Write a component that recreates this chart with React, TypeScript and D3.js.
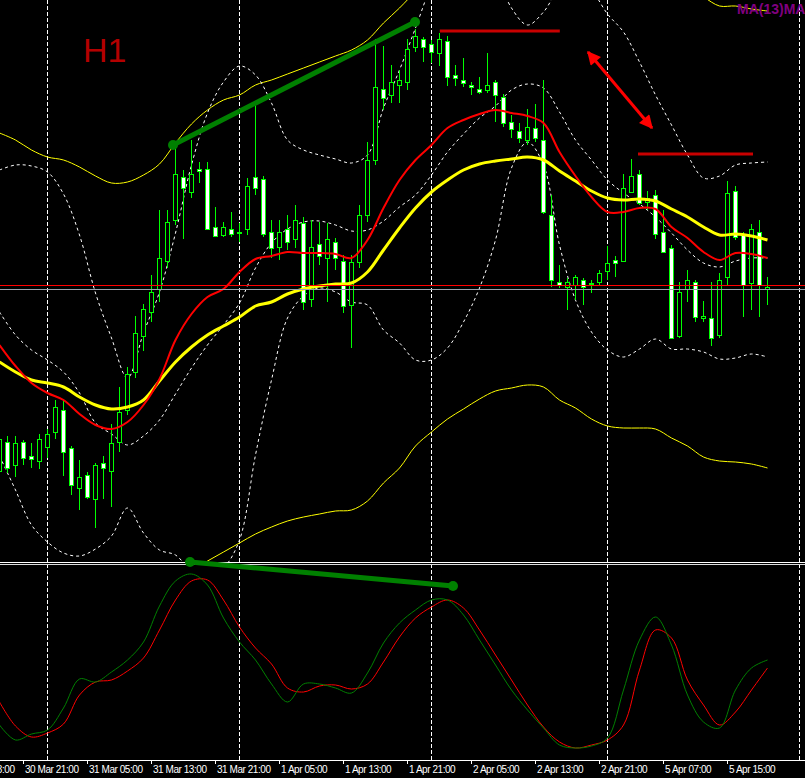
import React from "react";
import * as d3 from "d3";

const WIDTH = 805;
const HEIGHT = 778;
const MAIN_BOTTOM = 562;
const OSC_TOP = 565;
const AXIS_Y = 760;
const CANDLE = "#00ff00";
const FONT = "'Liberation Sans', Arial, sans-serif";

// H1 bars, 30 Mar 18:00 .. 5 Apr 20:00 (price in points)
const opens = [129, 158, 135, 158, 144, 139, 153, 168, 190, 152, 112, 125, 101, 137, 129, 158, 190, 228, 264, 288,
  311, 339, 380, 423, 408, 431, 431, 373, 365, 371, 368, 371, 423, 421, 368, 353, 371, 361, 377, 301,
  356, 342, 358, 339, 295, 338, 385, 440, 511, 505, 515, 518, 553, 561, 556, 547, 559, 525, 520, 515,
  511, 510, 518, 503, 478, 469, 460, 472, 460, 385, 318, 313, 315, 320, 317, 318, 329, 340, 339, 408,
  426, 398, 405, 368, 352, 264, 311, 318, 282, 282, 265, 323, 409, 365, 317, 368, 311];
const highs = [167, 164, 164, 160, 157, 166, 171, 200, 200, 154, 140, 128, 137, 144, 176, 213, 233, 284, 296, 325,
  390, 390, 453, 430, 460, 438, 438, 393, 378, 388, 377, 422, 495, 424, 380, 380, 385, 395, 383, 380,
  378, 377, 362, 345, 345, 395, 458, 561, 554, 535, 530, 561, 571, 563, 560, 567, 564, 535, 542, 518,
  523, 547, 520, 506, 485, 477, 491, 496, 520, 405, 335, 322, 325, 322, 320, 330, 354, 344, 426, 441,
  430, 409, 410, 390, 355, 318, 330, 320, 299, 318, 327, 419, 414, 368, 376, 380, 323];
const lows = [125, 127, 123, 135, 132, 131, 142, 161, 124, 105, 90, 101, 72, 101, 93, 148, 185, 222, 249, 278,
  298, 332, 375, 361, 402, 417, 370, 363, 363, 363, 358, 365, 405, 363, 342, 340, 350, 352, 290, 293,
  335, 298, 330, 287, 252, 332, 378, 435, 490, 497, 497, 510, 548, 538, 537, 534, 514, 514, 513, 505,
  506, 507, 478, 473, 462, 457, 455, 458, 386, 313, 312, 290, 300, 295, 307, 315, 320, 323, 338, 407,
  395, 390, 361, 347, 261, 262, 298, 278, 278, 254, 262, 314, 360, 283, 290, 283, 295];
const closes = [161, 132, 157, 142, 141, 161, 166, 193, 148, 115, 123, 103, 135, 132, 157, 188, 226, 267, 291, 308,
  342, 378, 426, 412, 426, 429, 371, 364, 373, 366, 367, 414, 412, 366, 352, 368, 358, 380, 298, 353,
  344, 361, 342, 294, 338, 385, 440, 513, 502, 518, 520, 551, 564, 553, 548, 561, 523, 522, 517, 513,
  508, 515, 505, 477, 471, 462, 473, 462, 388, 320, 315, 318, 323, 313, 317, 327, 337, 337, 412, 424,
  397, 402, 366, 348, 262, 308, 320, 283, 284, 262, 320, 407, 363, 315, 371, 315, 313];

// indicator values, one every second bar
const SAMPLE_STEP = 2;
const maRed = [255, 234, 217, 207, 200, 186, 175, 171, 178, 195, 221, 260, 286, 303, 311, 328, 341, 344, 348, 347,
  347, 346, 342, 360, 392, 420, 440, 455, 472, 480, 486, 490, 487, 484, 477, 448, 424, 403, 388, 388,
  392, 391, 373, 362, 348, 340, 347, 346, 342];
const maYellow = [238, 228, 220, 217, 213, 203, 195, 191, 193, 200, 219, 238, 253, 265, 274, 283, 294, 298, 306, 311,
  314, 316, 317, 328, 350, 372, 392, 408, 420, 430, 436, 439, 441, 443, 440, 429, 419, 409, 402, 400,
  401, 399, 391, 383, 373, 365, 366, 364, 360];
const bbUpper = [430, 435, 434, 428, 406, 365, 307, 262, 222, 267, 308, 367, 435, 487, 518, 534, 525, 497, 460, 450,
  445, 441, 437, 445, 492, 530, 572, 615, 645, 658, 652, 628, 592, 575, 588, 612, 622, 610, 586, 568,
  538, 505, 475, 445, 422, 424, 435, 437, 438];
const bbMiddle = [288, 265, 250, 240, 228, 207, 177, 166, 155, 164, 180, 206, 232, 255, 275, 297, 332, 357, 371, 378,
  379, 375, 369, 370, 379, 393, 405, 425, 448, 466, 482, 494, 510, 516, 512, 488, 460, 440, 420, 407,
  396, 383, 367, 350, 337, 333, 339, 342, 342];
const bbLower = [144, 110, 75, 58, 47, 44, 51, 64, 92, 67, 50, 45, 29, 23, 32, 60, 145, 220, 282, 304,
  312, 308, 298, 295, 270, 257, 240, 240, 252, 278, 312, 360, 432, 458, 435, 355, 300, 268, 250, 243,
  251, 261, 251, 251, 248, 241, 242, 246, 243];
const envUpper = [467, 460, 450, 443, 440, 433, 424, 417, 418, 425, 436, 457, 476, 490, 500, 505, 515, 520, 526, 532,
  538, 544, 550, 560, 577, 592, 610, 640, 659, 669, 671, 669, 670, 671, 667, 658, 646, 637, 630, 628,
  630, 627, 620, 612, 603, 594, 594, 591, 589];
const envLower = [9, -4, -10, -9, -14, -27, -34, -35, -32, -25, 2, 19, 30, 39, 48, 57, 66, 73, 79, 83,
  86, 89, 90, 99, 117, 132, 154, 168, 181, 191, 201, 209, 212, 215, 213, 200, 192, 181, 174, 172,
  172, 171, 162, 154, 143, 139, 138, 136, 132];
const oscMain = [17.5, 10, 13, 15, 26, 40.5, 39, 44, 50, 59, 77, 89.5, 93, 87.5, 71, 59, 50, 38, 29, 38,
  38, 36, 33.5, 43.5, 58.5, 68.5, 75, 80, 80, 72.5, 60, 47.5, 35, 25, 16, 7.5, 6, 7, 11, 35,
  60, 71.5, 57.5, 32.5, 19, 16, 35, 46, 50];
const oscSignal = [29, 17, 11.5, 13.5, 18, 32.5, 39, 40, 44.5, 51, 65, 80, 89.5, 90, 80, 66.5, 56, 48, 36, 34,
  37, 37.5, 35.5, 38, 49, 61.5, 71, 76.5, 80, 76, 65, 52.5, 40, 27.5, 16.5, 9, 6, 7.5, 10, 17.5,
  45, 65, 61, 40, 27.5, 17.5, 24, 35, 46];

const dayStartBars = [6, 30, 54, 76, 100];
const tickBars = [-5, 3, 11, 19, 27, 35, 43, 51, 59, 67, 75, 83, 91];
const tickLabels = ["30 Mar 13:00", "30 Mar 21:00", "31 Mar 05:00", "31 Mar 13:00", "31 Mar 21:00",
  "1 Apr 05:00", "1 Apr 13:00", "1 Apr 21:00", "2 Apr 05:00", "2 Apr 13:00", "2 Apr 21:00",
  "5 Apr 07:00", "5 Apr 15:00"];

const bidPrice = 315;
const askPrice = 311;

// drawn objects, [bar, value]
const priceTrend = [[21.75, 455], [52, 578]];
const oscTrend = [[23.875, 99], [56.75, 87]];
const resistanceLines = [[[55.1, 569], [70.1, 569]], [[79.875, 446], [94.25, 446]]];
const moveArrow = [[73.625, 548], [81.625, 472]];

export default function App() {
  const x = d3.scaleLinear().domain([0, 1]).range([-1, 7]);
  const y = d3.scaleLinear().domain([38, 600]).range([MAIN_BOTTOM, 0]);
  const yOsc = d3.scaleLinear().domain([0, 100]).range([760, 560]);

  const pathFor = (scale: d3.ScaleLinear<number, number>) =>
    d3.line<number>()
      .x((_, k) => x(k * SAMPLE_STEP) + 0.5)
      .y((v) => scale(v))
      .curve(d3.curveCatmullRom.alpha(0.5));
  const priceLine = pathFor(y);
  const oscLine = pathFor(yOsc);

  return (
    <div style={{ position: "absolute", left: 0, top: 0 }}>
      <svg width={WIDTH} height={HEIGHT} style={{ display: "block", background: "#000" }}>
        <defs>
          <clipPath id="mainClip"><rect x={0} y={0} width={WIDTH} height={MAIN_BOTTOM} /></clipPath>
          <clipPath id="oscClip"><rect x={0} y={OSC_TOP + 1} width={WIDTH} height={AXIS_Y - OSC_TOP - 1} /></clipPath>
          <marker id="arrowHead" viewBox="0 0 10 10" refX={9} refY={5} markerWidth={5} markerHeight={4.5}
            orient="auto-start-reverse" markerUnits="strokeWidth">
            <path d="M0,0 L10,5 L0,10 z" fill="#ff0000" />
          </marker>
        </defs>
        <rect width={WIDTH} height={HEIGHT} fill="#000" />

        {dayStartBars.map((b) => (
          <line key={b} x1={Math.round(x(b)) + 0.5} x2={Math.round(x(b)) + 0.5} y1={0} y2={AXIS_Y}
            stroke="#ffffff" strokeDasharray="4,2" shapeRendering="crispEdges" />
        ))}

        <g clipPath="url(#mainClip)">
          <path d={priceLine(envUpper) ?? ""} fill="none" stroke="#ffff00" strokeWidth={1} />
          <path d={priceLine(envLower) ?? ""} fill="none" stroke="#ffff00" strokeWidth={1} />
          {[bbUpper, bbMiddle, bbLower].map((band, k) => (
            <path key={k} d={priceLine(band) ?? ""} fill="none" stroke="#ffffff" strokeWidth={1} strokeDasharray="3,3" />
          ))}

          {opens.map((o, i) => {
            const c = closes[i];
            const cx = Math.round(x(i));
            const top = Math.round(y(Math.max(o, c)));
            const bot = Math.round(y(Math.min(o, c)));
            return (
              <g key={i} shapeRendering="crispEdges">
                <line x1={cx + 0.5} x2={cx + 0.5} y1={Math.round(y(highs[i]))} y2={Math.round(y(lows[i]))} stroke={CANDLE} />
                <rect x={cx - 1.5} y={top + 0.5} width={4} height={Math.max(bot - top, 1)}
                  fill={c >= o ? "#000" : "#fff"} stroke={CANDLE} />
              </g>
            );
          })}

          <path d={priceLine(maYellow) ?? ""} fill="none" stroke="#ffff00" strokeWidth={3} />
          <path d={priceLine(maRed) ?? ""} fill="none" stroke="#ff0000" strokeWidth={2} />

          <line x1={0} x2={WIDTH} y1={Math.round(y(bidPrice)) + 0.5} y2={Math.round(y(bidPrice)) + 0.5} stroke="#ff0000" />
          <line x1={0} x2={WIDTH} y1={Math.round(y(askPrice)) + 0.5} y2={Math.round(y(askPrice)) + 0.5} stroke="#9aa3ad" />
        </g>

        {resistanceLines.map((seg, k) => (
          <line key={k} x1={x(seg[0][0])} x2={x(seg[1][0])} y1={y(seg[0][1])} y2={y(seg[1][1])}
            stroke="#c80000" strokeWidth={3} />
        ))}
        <line x1={x(moveArrow[0][0])} y1={y(moveArrow[0][1])} x2={x(moveArrow[1][0])} y2={y(moveArrow[1][1])}
          stroke="#ff0000" strokeWidth={3} markerStart="url(#arrowHead)" markerEnd="url(#arrowHead)" />

        <line x1={x(priceTrend[0][0])} y1={y(priceTrend[0][1])} x2={x(priceTrend[1][0])} y2={y(priceTrend[1][1])}
          stroke="#008000" strokeWidth={5} />
        {priceTrend.map((p, k) => (
          <circle key={k} cx={x(p[0])} cy={y(p[1])} r={5} fill="#008000" />
        ))}

        <text x={83} y={62} fill="#b40000" fontSize={34} fontFamily={FONT}>H1</text>
        <text x={737} y={14} fill="#800080" fontSize={14} fontWeight="bold" fontFamily={FONT}>MA(13)MA</text>

        <line x1={0} x2={WIDTH} y1={MAIN_BOTTOM + 0.5} y2={MAIN_BOTTOM + 0.5} stroke="#ffffff" />
        <line x1={0} x2={WIDTH} y1={OSC_TOP - 0.5} y2={OSC_TOP - 0.5} stroke="#dddddd" />

        <g clipPath="url(#oscClip)">
          <path d={oscLine(oscSignal) ?? ""} fill="none" stroke="#ff0000" strokeWidth={1} />
          <path d={oscLine(oscMain) ?? ""} fill="none" stroke="#008000" strokeWidth={1} />
        </g>

        <line x1={x(oscTrend[0][0])} y1={yOsc(oscTrend[0][1])} x2={x(oscTrend[1][0])} y2={yOsc(oscTrend[1][1])}
          stroke="#008000" strokeWidth={5} />
        {oscTrend.map((p, k) => (
          <circle key={k} cx={x(p[0])} cy={yOsc(p[1])} r={5} fill="#008000" />
        ))}

        <line x1={0} x2={WIDTH} y1={AXIS_Y + 0.5} y2={AXIS_Y + 0.5} stroke="#ffffff" />
        {tickBars.map((b, k) => {
          const tx = Math.round(x(b));
          return (
            <g key={b}>
              <line x1={tx + 0.5} x2={tx + 0.5} y1={AXIS_Y} y2={AXIS_Y + 4} stroke="#ffffff" shapeRendering="crispEdges" />
              <text x={tx + 2} y={773} fill="#ffffff" fontSize={10} letterSpacing={-0.45} fontFamily={FONT}>
                {tickLabels[k]}
              </text>
            </g>
          );
        })}
      </svg>
    </div>
  );
}
